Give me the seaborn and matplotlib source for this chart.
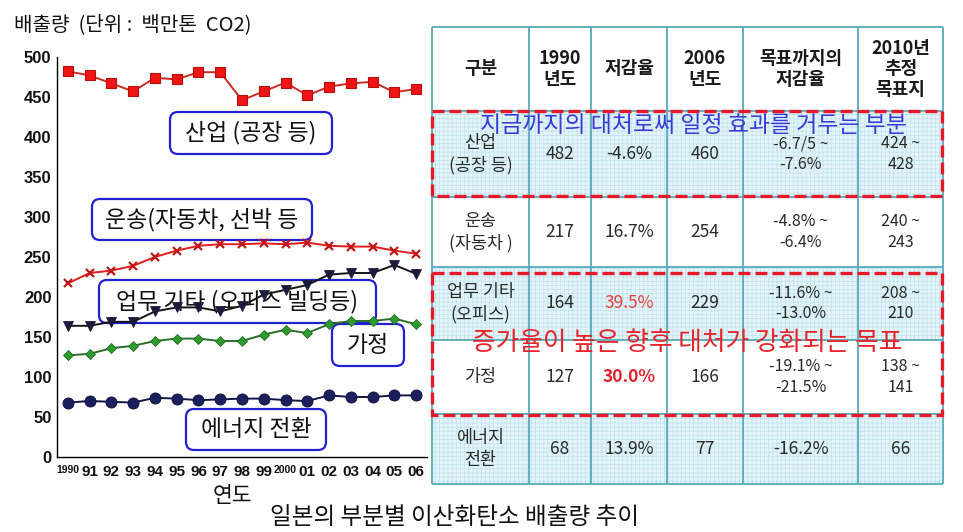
import matplotlib
matplotlib.use('Agg')
import numpy as np
import pandas as pd
import matplotlib.pyplot as plt
import seaborn as sns
from matplotlib.patches import Rectangle, FancyBboxPatch
from matplotlib import font_manager

# ---------------- data ----------------
years = [1990, 1991, 1992, 1993, 1994, 1995, 1996, 1997, 1998,
         1999, 2000, 2001, 2002, 2003, 2004, 2005, 2006]
year_labels = ["1990", "91", "92", "93", "94", "95", "96", "97", "98",
               "99", "2000", "01", "02", "03", "04", "05", "06"]
industry = [482, 477, 467, 457, 474, 472, 481, 481, 446, 457, 468, 452, 463, 467, 469, 456, 460]
transport = [217, 230, 233, 239, 250, 258, 264, 266, 266, 267, 266, 268, 264, 263, 263, 258, 254]
office = [164, 164, 169, 169, 182, 187, 187, 182, 189, 203, 209, 215, 228, 230, 230, 240, 229]
residential = [127, 129, 136, 139, 145, 148, 148, 145, 145, 153, 159, 155, 166, 170, 170, 173, 166]
energy = [68, 70, 69, 68, 74, 73, 71, 72, 73, 73, 71, 70, 77, 75, 75, 77, 77]

series_labels = ["산업 (공장 등)", "운송(자동차, 선박 등", "업무 기타 (오피스 빌딩등)", "가정", "에너지 전환"]

table_header = ["구분", "1990\n년도", "저감율", "2006\n년도", "목표까지의\n저감율", "2010년\n추정\n목표지"]
row_names = ["산업\n(공장 등)", "운송\n(자동차 )", "업무 기타\n(오피스)", "가정", "에너지\n전환"]
val_1990 = ["482", "217", "164", "127", "68"]
rate_change = ["-4.6%", "16.7%", "39.5%", "30.0%", "13.9%"]
val_2006 = ["460", "254", "229", "166", "77"]
rate_to_target = ["-6.7/5 ~\n-7.6%", "-4.8% ~\n-6.4%", "-11.6% ~\n-13.0%", "-19.1% ~\n-21.5%", "-16.2%"]
target_2010 = ["424 ~\n428", "240 ~\n243", "208 ~\n210", "138 ~\n141", "66"]

note_blue = "지금까지의 대처로써 일정 효과를 거두는 부분"
note_red = "증가율이 높은 향후 대처가 강화되는 목표"
y_title = "배출량  (단위 :  백만톤  CO2)"
x_title = "연도"
chart_title = "일본의 부분별 이산화탄소 배출량 추이"

# ---------------- style ----------------
sns.set_theme(style="white")
plt.rcParams['font.family'] = ['Noto Sans CJK KR', 'DejaVu Sans']
plt.rcParams['hatch.linewidth'] = 0.6

names = {f.name for f in font_manager.fontManager.ttflist}
narrow = 'Liberation Sans Narrow' if 'Liberation Sans Narrow' in names else 'Liberation Sans'

W, H = 963, 532
fig = plt.figure(figsize=(W / 100, H / 100), dpi=100)


def px_axes(l, t, r, b):
    return [l / W, 1 - b / H, (r - l) / W, (b - t) / H]


ax = fig.add_axes(px_axes(57, 57, 427, 457))
ax.set_facecolor('none')
ov = fig.add_axes([0, 0, 1, 1])
ov.set_xlim(0, W)
ov.set_ylim(H, 0)
ov.axis('off')
ov.set_facecolor('none')

df = pd.DataFrame({"year": years, "industry": industry, "transport": transport,
                   "office": office, "residential": residential, "energy": energy})

specs = [
    ("industry", dict(color='#cf2a22', marker='s', markersize=6.5, markerfacecolor='#f01414',
                      markeredgecolor='#b41010', markeredgewidth=0.8)),
    ("transport", dict(color='#e01e1e', marker='x', markersize=6, markerfacecolor='#c01818',
                       markeredgecolor='#c01818', markeredgewidth=1.6)),
    ("office", dict(color='#151515', marker='v', markersize=6.5, markerfacecolor='#1a1a3a',
                    markeredgecolor='#1a1a3a', markeredgewidth=0.6)),
    ("residential", dict(color='#2a6e2a', marker='D', markersize=5.5, markerfacecolor='#2f9a2f',
                         markeredgecolor='#1f6f1f', markeredgewidth=0.6)),
    ("energy", dict(color='#141448', marker='o', markersize=8, markerfacecolor='#1b1f5c',
                    markeredgecolor='#10123c', markeredgewidth=0.6)),
]
for col, kw in specs:
    sns.lineplot(data=df, x="year", y=col, ax=ax, linewidth=1.4, zorder=3, **kw)

ax.set_xlim(1989.5, 2006.5)
ax.set_ylim(0, 500)
ax.set_xlabel('')
ax.set_ylabel('')
ax.set_yticks(np.arange(0, 501, 50))
ax.set_xticks(years)
ax.set_xticklabels(year_labels)
ax.set_xticks(np.arange(1990.5, 2006.6, 1), minor=True)
ax.tick_params(axis='y', which='major', direction='in', length=8, width=1, color='black', pad=4)
ax.tick_params(axis='x', which='major', length=0, pad=6)
ax.tick_params(axis='x', which='minor', direction='in', length=6, width=1, color='black')
for s in ['top', 'right']:
    ax.spines[s].set_visible(False)
for s in ['left', 'bottom']:
    ax.spines[s].set_color('black')
    ax.spines[s].set_linewidth(1.0)
for lab in ax.get_yticklabels():
    lab.set_fontfamily('Liberation Sans')
    lab.set_fontweight('bold')
    lab.set_fontsize(12)
    lab.set_color('#111111')
for lab in ax.get_xticklabels():
    t = lab.get_text()
    if len(t) == 4:
        lab.set_fontfamily(narrow)
        lab.set_fontsize(7.5)
    else:
        lab.set_fontfamily('Liberation Sans')
        lab.set_fontsize(11)
    lab.set_fontweight('bold')
    lab.set_color('#111111')

# ---------- series label boxes (under lines) ----------
box_rects = [(170, 112, 332, 154), (92, 199, 312, 240), (99, 280, 376, 323),
             (332, 324, 404, 366), (186, 409, 326, 450)]
for txt, (x0, y0, x1, y1) in zip(series_labels, box_rects):
    p = FancyBboxPatch((x0, y0), x1 - x0, y1 - y0, boxstyle='round,pad=0,rounding_size=8',
                       transform=ov.transData, facecolor='white', edgecolor='#2121cf',
                       linewidth=1.6, zorder=1.5, clip_on=False)
    ax.add_patch(p)
    ax.text((x0 + x1) / 2, (y0 + y1) / 2, txt, transform=ov.transData, ha='center', va='center',
            fontsize=16.5, color='#111111', zorder=1.6, clip_on=False)

# ---------- titles ----------
ov.text(14, 25, y_title, ha='left', va='center', fontsize=14.5, color='#111111')
ov.text(232, 496, x_title, ha='center', va='center', fontsize=15.5, color='#111111')
ov.text(455, 518, chart_title, ha='center', va='center', fontsize=17, color='#111111')

# ---------- table ----------
col_x = [432, 529, 591, 667, 743, 858, 943]
row_y = [27, 111, 197, 267, 340, 414, 484]
grid_c = '#5aa9ba'
shaded = [0, 2, 4]
for r in shaded:
    y0, y1 = row_y[r + 1], row_y[r + 2]
    ov.add_patch(Rectangle((col_x[0], y0), col_x[-1] - col_x[0], y1 - y0, facecolor='#e5f5fa',
                           edgecolor='#c2e5ef', hatch='++++', linewidth=0, zorder=1))
for x in col_x:
    ov.plot([x, x], [row_y[0], row_y[-1]], color=grid_c, lw=1.3, zorder=2, solid_capstyle='butt')
for y in row_y:
    ov.plot([col_x[0], col_x[-1]], [y, y], color=grid_c, lw=1.3, zorder=2, solid_capstyle='butt')

cx = [(col_x[i] + col_x[i + 1]) / 2 for i in range(6)]
cy = [(row_y[i] + row_y[i + 1]) / 2 for i in range(6)]
for i, h in enumerate(table_header):
    ov.text(cx[i], cy[0], h, ha='center', va='center', fontsize=13, fontweight='bold',
            color='#1a1a1a', linespacing=1.1, zorder=3)
body_cols = [row_names, val_1990, rate_change, val_2006, rate_to_target, target_2010]
for j, colvals in enumerate(body_cols):
    for r, v in enumerate(colvals):
        kw = dict(color='#2a2a2a', fontweight='normal')
        fs = 11.5 if ('\n' in v and j > 0) else 12.5
        if j == 2 and r == 2:
            kw['color'] = '#e8403a'
        if j == 2 and r == 3:
            kw['color'] = '#e0202a'
            kw['fontweight'] = 'bold'
        ov.text(cx[j], cy[r + 1], v, ha='center', va='center', fontsize=fs,
                linespacing=1.3, zorder=3, **kw)

# dashed highlight boxes
for (y0, y1) in [(111, 196), (273, 415)]:
    ov.add_patch(Rectangle((432, y0), 510, y1 - y0, fill=False, edgecolor='#e6192b',
                           linewidth=2.4, linestyle=(0, (3.6, 1.5)), zorder=4))

ov.text(693, 125, note_blue, ha='center', va='center', fontsize=16.5, color='#3a3ad8', zorder=5)
ov.text(687, 343, note_red, ha='center', va='center', fontsize=18.5, color='#e8242c', zorder=5)

fig.savefig('out.png', dpi=100)
